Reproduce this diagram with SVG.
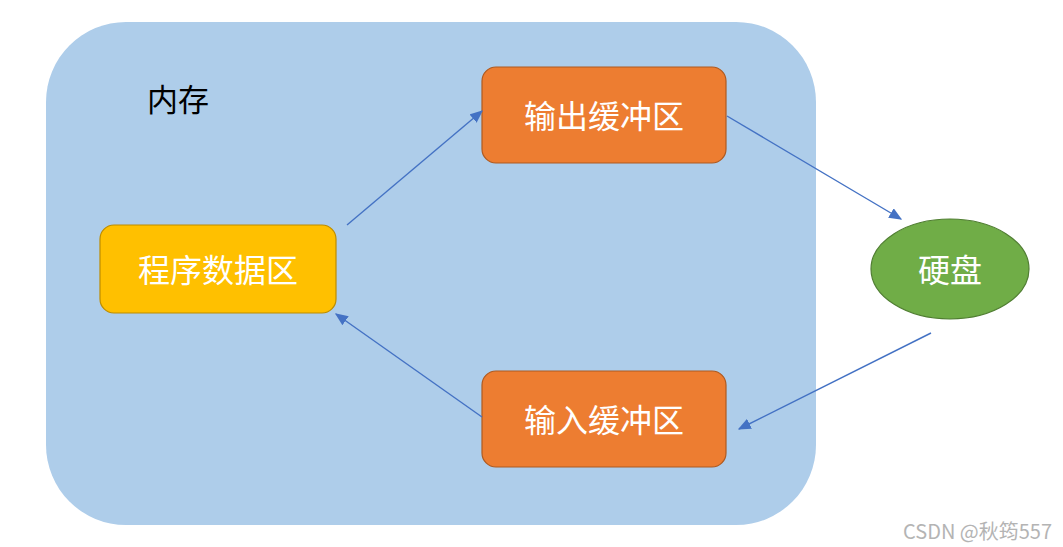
<svg xmlns="http://www.w3.org/2000/svg" width="1063" height="547" viewBox="0 0 1063 547">
<style>
.lbl{font-family:"Microsoft YaHei","Noto Sans CJK SC",sans-serif;font-size:32px;fill:#ffffff;text-anchor:middle;dominant-baseline:central}
.box{fill:#ED7D31;stroke:#AE5A21;stroke-width:1.2}
.conn{stroke:#4472C4;stroke-width:1.4;fill:none;marker-end:url(#ah)}
</style>
<defs>
<marker id="ah" viewBox="0 0 10 10" refX="9" refY="5" markerWidth="13" markerHeight="11" markerUnits="userSpaceOnUse" orient="auto" preserveAspectRatio="none">
<path d="M0,0 L10,5 L0,10 z" fill="#4472C4"/>
</marker>
</defs>
<rect width="1063" height="547" fill="#ffffff"/>
<g id="memory">
<rect x="46" y="22" width="770" height="503" rx="80" ry="80" fill="#AECDEA"/>
<text x="178" y="97" font-family="'Microsoft YaHei','Noto Sans CJK SC',sans-serif" font-size="31" fill="#000000" text-anchor="middle" dominant-baseline="central">内存</text>
</g>
<g id="program">
<rect x="100" y="225" width="236" height="88" rx="14" fill="#FFC000" stroke="#BC8C00" stroke-width="1.2"/>
<text class="lbl" x="218" y="268">程序数据区</text>
</g>
<g id="outbuf">
<rect class="box" x="482" y="67" width="244" height="96" rx="14"/>
<text class="lbl" x="604" y="114">输出缓冲区</text>
</g>
<g id="inbuf">
<rect class="box" x="482" y="371" width="244" height="96" rx="14"/>
<text class="lbl" x="604" y="418">输入缓冲区</text>
</g>
<g id="disk">
<ellipse cx="950" cy="269" rx="79" ry="50" fill="#70AD47" stroke="#507E32" stroke-width="1.2"/>
<text class="lbl" x="950" y="268">硬盘</text>
</g>
<g id="connectors">
<line class="conn" x1="347" y1="225" x2="482" y2="111"/>
<line class="conn" x1="727" y1="116" x2="901" y2="219"/>
<line class="conn" x1="931" y1="333" x2="739" y2="429"/>
<line class="conn" x1="482" y1="417" x2="336" y2="314"/>
</g>
<text x="903" y="530" font-family="'Microsoft YaHei','Noto Sans CJK SC',sans-serif" font-size="20" fill="#b4b4b4" dominant-baseline="central">CSDN @秋筠557</text>
</svg>
